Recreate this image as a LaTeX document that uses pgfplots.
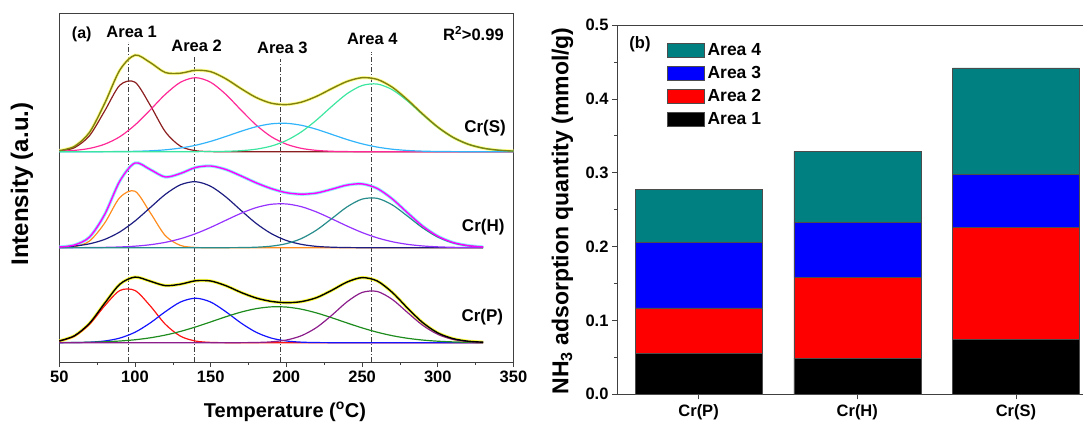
\documentclass[border=0pt]{standalone}
\usepackage{pgfplots}
\pgfplotsset{compat=1.18}
\usepackage{pgfplotstable}
\usepackage{fontspec}
\setmainfont{Liberation Sans}

\newcommand{\fs}[1]{\fontsize{#1}{#1}\selectfont\bfseries}

% curve colours
\definecolor{fitS}{RGB}{128,128,16}
\definecolor{measS}{RGB}{255,255,110}
\definecolor{cS1}{RGB}{139,30,30}
\definecolor{cS2}{RGB}{255,40,150}
\definecolor{cS3}{RGB}{50,180,250}
\definecolor{cS4}{RGB}{60,230,160}
\definecolor{fitH}{RGB}{255,0,255}
\definecolor{measH}{RGB}{100,240,255}
\definecolor{cH1}{RGB}{255,140,30}
\definecolor{cH2}{RGB}{30,30,130}
\definecolor{cH3}{RGB}{150,50,255}
\definecolor{cH4}{RGB}{40,140,140}
\definecolor{measP}{RGB}{255,255,0}
\definecolor{cP1}{RGB}{255,20,20}
\definecolor{cP2}{RGB}{20,20,255}
\definecolor{cP3}{RGB}{30,140,30}
\definecolor{cP4}{RGB}{140,30,140}
\definecolor{barteal}{RGB}{0,128,128}

% deconvoluted NH3-TPD peaks (intensity above each baseline)
\pgfplotstableread{
T   a1    a2    a3     a4     fit
50  0.65  0.4   0      0      1.1
60  4.0   1.3   0      0      5.3
70  16.1  3.3   0      0      19.4
80  40.8  7.5   0.05   0      48.4
90  66.5  15.0  0.15   0      81.7
100 69.5  26.7  0.38   0      96.6
110 46.6  41.7  0.88   0      89.2
120 20.0  57.3  1.87   0      79.2
130 5.5   69.4  3.63   0      78.5
140 1.0   74.0  6.41   0.03   81.4
150 0.1   69.4  10.34  0.12   80.0
160 0     57.3  15.2   0.37   72.9
170 0     41.7  20.4   1.01   63.1
180 0     26.7  24.96  2.52   54.2
190 0     15.0  27.87  5.62   48.5
200 0     7.5   28.38  11.19  47.1
210 0     3.3   26.37  19.93  49.6
220 0     1.3   22.35  31.78  55.4
230 0     0.4   17.29  45.36  63.1
240 0     0.1   12.19  57.92  70.2
250 0     0     7.85   66.17  74.0
260 0     0     4.61   67.66  72.3
270 0     0     2.47   61.91  64.4
280 0     0     1.21   50.69  51.9
290 0     0     0.54   37.13  37.7
300 0     0     0.22   24.34  24.6
310 0     0     0.08   14.27  14.4
320 0     0     0      7.5    7.5
330 0     0     0      3.52   3.5
340 0     0     0      1.48   1.5
350 0     0     0      0.56   0.6
}\crS

\pgfplotstableread{
T   a1    a2    a3     a4     fit
50  0.08  0.6   0.02   0      0.7
60  1.0   1.6   0.05   0      2.7
70  6.7   3.9   0.13   0      10.7
80  24.7  8.3   0.32   0      33.3
90  50.2  15.8  0.73   0      66.7
100 56.5  26.7  1.52   0      84.7
110 35.2  40.0  2.95   0      78.2
120 12.1  53.3  5.33   0      70.7
130 2.3   62.9  8.96   0      74.2
140 0.24  66.0  13.99  0      80.2
150 0     61.4  20.31  0      81.7
160 0     50.8  27.41  0.03   78.2
170 0     37.3  34.37  0.13   71.8
180 0     24.3  40.07  0.49   64.9
190 0     14.1  43.42  1.53   59.1
200 0     7.2   43.74  4.07   55.0
210 0     3.3   40.96  9.20   53.5
220 0     1.3   35.65  17.73  54.7
230 0     0.5   28.85  29.12  58.5
240 0     0.15  21.70  40.74  62.6
250 0     0     15.17  48.58  63.8
260 0     0     9.86   49.36  59.2
270 0     0     5.95   42.74  48.7
280 0     0     3.34   31.54  34.9
290 0     0     1.74   19.83  21.6
300 0     0     0.85   10.63  11.5
310 0     0     0.38   4.85   5.2
320 0     0     0.16   1.89   2.1
330 0     0     0.06   0.63   0.7
}\crH

\pgfplotstableread{
T   a1    a2    a3     a4     fit
50  1.64  0.03  0.10   0      1.8
60  6.55  0.14  0.22   0      6.9
70  18.49 0.53  0.46   0      19.5
80  36.93 1.71  0.90   0      39.5
90  52.19 4.63  1.68   0      58.5
100 52.19 10.45 2.94   0      65.6
110 36.93 19.70 4.87   0      61.5
120 18.49 30.98 7.62   0      57.1
130 6.55  40.65 11.27  0      58.5
140 1.64  44.5  15.75  0      61.9
150 0.29  40.65 20.79  0      61.7
160 0.04  30.98 25.94  0      57.0
170 0     19.70 30.57  0.05   50.3
180 0     10.45 34.05  0.22   44.7
190 0     4.63  35.84  0.85   41.3
200 0     1.71  35.63  2.68   40.0
210 0     0.53  33.48  7.04   41.1
220 0     0.14  29.72  15.28  45.1
230 0     0.03  24.93  27.45  52.4
240 0     0     19.76  40.82  60.6
250 0     0     14.80  50.26  65.1
260 0     0     10.47  51.22  61.7
270 0     0     7.00   43.21  50.2
280 0     0     4.42   30.17  34.6
290 0     0     2.64   17.44  20.1
300 0     0     1.49   8.34   9.8
310 0     0     0.80   3.31   4.1
320 0     0     0.40   1.08   1.5
330 0     0     0.19   0.29   0.5
}\crP

\pgfplotsset{
  tpdlayer/.style={at={(59.3pt,66pt)}, anchor=south west, scale only axis,
    width=454.2pt, height=349pt, xmin=50, xmax=350, hide axis, clip=false},
  comp/.style={smooth, no marks, line width=1.2pt},
  meas/.style={smooth, no marks, line width=3.2pt, opacity=0.75},
  fitline/.style={smooth, no marks, line width=1.4pt},
  arealine/.style={no marks, line width=0.6pt, black!75,
    dash pattern=on 5pt off 2pt on 1pt off 2pt},
  barleg/.style={legend image code/.code={
      \draw[##1] (0pt,-7pt) rectangle (37pt,7pt);}},
}

\begin{document}
\begin{tikzpicture}
\useasboundingbox (0pt,0pt) rectangle (1083pt,428pt);

% ---------- (a) frame, ticks and peak positions ----------
\begin{axis}[
  at={(59.3pt,66pt)}, anchor=south west, scale only axis,
  width=454.2pt, height=349pt,
  xmin=50, xmax=350, ymin=0, ymax=349,
  xtick={50,100,150,200,250,300,350},
  minor xtick={75,125,175,225,275,325},
  ytick=\empty, xtick pos=left, tick align=outside,
  major tick length=5pt, minor tick length=3pt,
  every tick/.style={black!75, line width=0.7pt},
  axis line style={black!75, line width=0.8pt},
  xticklabel style={font=\fs{16.5}},
  /pgf/number format/assume math mode=true,
  clip=false,
]
\addplot[arealine] coordinates {(95.6,0) (95.6,320)};
\addplot[arealine] coordinates {(139,0) (139,305)};
\addplot[arealine] coordinates {(196,0) (196,302.7)};
\addplot[arealine] coordinates {(256,0) (256,310.3)};
\node[font=\fs{16}] at (axis cs:64.8,328) {(a)};
\node[font=\fs{16.5}] at (axis cs:97.8,330.3) {Area 1};
\node[font=\fs{16.5}] at (axis cs:140.7,316.3) {Area 2};
\node[font=\fs{16.5}] at (axis cs:197.3,313.7) {Area 3};
\node[font=\fs{16.5}] at (axis cs:256.7,323) {Area 4};
\node[font=\fs{16.5}] at (axis cs:323.5,328.7) {R\textsuperscript{2}>0.99};
\node[font=\fs{17}] at (axis cs:331.2,233.7) {Cr(S)};
\node[font=\fs{17}] at (axis cs:330,134.7) {Cr(H)};
\node[font=\fs{17}] at (axis cs:329.4,45.3) {Cr(P)};
\end{axis}

% ---------- Cr(S) ----------
\begin{axis}[tpdlayer, ymin=-210.3, ymax=138.7]
\addplot[meas, measS] table[x=T, y=fit] {\crS};
\addplot[comp, cS1] table[x=T, y=a1] {\crS};
\addplot[comp, cS2] table[x=T, y=a2] {\crS};
\addplot[comp, cS3] table[x=T, y=a3] {\crS};
\addplot[comp, cS4] table[x=T, y=a4] {\crS};
\addplot[fitline, fitS] table[x=T, y=fit] {\crS};
\end{axis}

% ---------- Cr(H) ----------
\begin{axis}[tpdlayer, ymin=-114.3, ymax=234.7]
\addplot[meas, measH] table[x=T, y=fit] {\crH};
\addplot[comp, cH1] table[x=T, y=a1] {\crH};
\addplot[comp, cH2] table[x=T, y=a2] {\crH};
\addplot[comp, cH3] table[x=T, y=a3] {\crH};
\addplot[comp, cH4] table[x=T, y=a4] {\crH};
\addplot[fitline, fitH] table[x=T, y=fit] {\crH};
\end{axis}

% ---------- Cr(P) ----------
\begin{axis}[tpdlayer, ymin=-19.3, ymax=329.7]
\addplot[meas, measP] table[x=T, y=fit] {\crP};
\addplot[comp, cP1] table[x=T, y=a1] {\crP};
\addplot[comp, cP2] table[x=T, y=a2] {\crP};
\addplot[comp, cP3] table[x=T, y=a3] {\crP};
\addplot[comp, cP4] table[x=T, y=a4] {\crP};
\addplot[fitline, black] table[x=T, y=fit] {\crP};
\end{axis}

% ---------- (b) acid amounts ----------
\begin{axis}[
  at={(617pt,33.7pt)}, anchor=south west, scale only axis,
  width=470.4pt, height=369.3pt,
  xmin=-0.514, xmax=2.45, ymin=0, ymax=0.5,
  ybar stacked, bar width=0.8,
  xtick={0,1,2}, xticklabels={Cr(P),Cr(H),Cr(S)},
  ytick={0,0.1,0.2,0.3,0.4,0.5},
  minor ytick={0.05,0.15,0.25,0.35,0.45},
  xtick pos=left, ytick pos=left, tick align=outside,
  major tick length=5pt, minor tick length=3pt,
  every tick/.style={black!75, line width=0.7pt},
  axis line style={black!75, line width=0.8pt},
  ticklabel style={font=\fs{16.5}},
  xticklabel style={yshift=-2pt},
  yticklabel style={/pgf/number format/.cd, fixed, fixed zerofill,
    precision=1, assume math mode=true},
  reverse legend,
  legend cell align=left,
  legend style={at={(0.106,0.957)}, anchor=north west, draw=none,
    fill=none, inner sep=0pt, row sep=5.5pt, font=\fs{17.5},
    nodes={inner xsep=3pt}},
]
\addplot[fill=black, draw=black!70, line width=0.5pt, barleg]
  coordinates {(0,0.055) (1,0.049) (2,0.074)};
\addlegendentry{Area 1}
\addplot[fill=red, draw=black!70, line width=0.5pt, barleg]
  coordinates {(0,0.062) (1,0.109) (2,0.152)};
\addlegendentry{Area 2}
\addplot[fill=blue, draw=black!70, line width=0.5pt, barleg]
  coordinates {(0,0.089) (1,0.075) (2,0.072)};
\addlegendentry{Area 3}
\addplot[fill=barteal, draw=black!70, line width=0.5pt, barleg]
  coordinates {(0,0.071) (1,0.096) (2,0.144)};
\addlegendentry{Area 4}
\end{axis}

% axis titles
\node[font=\fs{20}] at (285pt,16pt) {Temperature (\textsuperscript{o}C)};
\node[font=\fs{24}, rotate=90] at (22pt,244pt) {Intensity (a.u.)};
\node[font=\fs{23}, rotate=90] at (562.5pt,217pt)
  {NH\textsubscript{3} adsorption quantity (mmol/g)};
\node[font=\fs{16.5}] at (640pt,384pt) {(b)};
\end{tikzpicture}
\end{document}
